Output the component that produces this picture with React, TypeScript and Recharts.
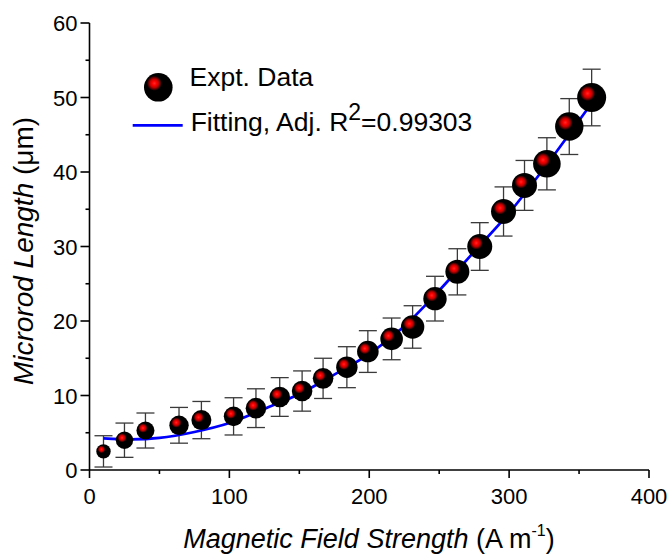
import { ComposedChart, ErrorBar, Line, Scatter, XAxis, YAxis } from 'recharts';

// measured microrod length vs applied field
const fieldStrength = [10, 25, 40, 64, 80, 103, 119, 136, 152, 167, 184, 199, 216, 231, 247, 263, 279, 296, 311, 327, 343, 359];
const rodLength = [2.5, 4.0, 5.3, 6.0, 6.7, 7.2, 8.3, 9.8, 10.6, 12.3, 13.8, 15.9, 17.6, 19.2, 23.0, 26.6, 30.0, 34.7, 38.2, 41.1, 46.1, 50.0];
const lengthError = [2.1, 2.3, 2.35, 2.4, 2.5, 2.5, 2.6, 2.6, 2.7, 2.7, 2.75, 2.8, 2.8, 2.85, 3.0, 3.1, 3.2, 3.3, 3.35, 3.5, 3.75, 3.8];

// fitted curve
const fitField = [10, 30, 50, 75, 100, 125, 150, 175, 200, 225, 250, 275, 300, 325, 345, 360];
const fitLength = [4.25, 4.1, 4.3, 5.1, 6.3, 8.2, 10.2, 12.8, 15.6, 19.3, 24.1, 29.3, 34.5, 40.5, 45.6, 49.5];

const xTicks = [0, 50, 100, 150, 200, 250, 300, 350, 400];
const yTicks = [0, 5, 10, 15, 20, 25, 30, 35, 40, 45, 50, 55, 60];

// marker radius in px, the symbols get bigger along the series
const MARKER_R = [7.2, 8.7, 9, 9.7, 10, 9.8, 10.3, 10.3, 10.3, 10.3, 10.7, 10.8, 11.3, 11.7, 11.7, 12, 12.5, 12.5, 12.5, 13.8, 14.2, 14.5];

const FONT = '"Liberation Sans", Arial, Helvetica, sans-serif';
const W = 668;
const H = 554;

const exptData = fieldStrength.map((x, i) => ({ x, y: rodLength[i], err: lengthError[i], idx: i }));
const fitData = fitField.map((x, i) => ({ x, fit: fitLength[i] }));

function XTick({ x, y, payload }: any) {
  const major = payload.value % 100 === 0;
  return (
    <g>
      <line x1={x} x2={x} y1={y} y2={y + (major ? 8 : 4)} stroke="#000" strokeWidth={1.6} />
      {major && (
        <text x={x} y={y + 34} textAnchor="middle" fontFamily={FONT} fontSize={22} fill="#000">
          {payload.value}
        </text>
      )}
    </g>
  );
}

function YTick({ x, y, payload }: any) {
  const major = payload.value % 10 === 0;
  return (
    <g>
      <line x1={x - (major ? 9 : 4)} x2={x} y1={y} y2={y} stroke="#000" strokeWidth={1.6} />
      {major && (
        <text x={x - 12} y={y + 8} textAnchor="end" fontFamily={FONT} fontSize={22} fill="#000">
          {payload.value}
        </text>
      )}
    </g>
  );
}

function Ball(props: any) {
  const { cx, cy, payload } = props;
  if (cx == null || cy == null) return null;
  return <circle cx={cx} cy={cy} r={MARKER_R[payload.idx]} fill="url(#ballGrad)" />;
}

export default function App() {
  return (
    <div style={{ position: 'absolute', left: 0, top: 0, width: W, height: H, background: '#fff' }}>
      <ComposedChart width={W} height={H} margin={{ top: 23, right: 19, bottom: 0, left: 0 }}>
        <XAxis
          type="number"
          dataKey="x"
          domain={[0, 400]}
          ticks={xTicks}
          interval={0}
          height={84}
          tickSize={0}
          tickMargin={0}
          tickLine={false}
          tick={<XTick />}
          axisLine={{ stroke: '#000', strokeWidth: 1.6 }}
          allowDataOverflow
        />
        <YAxis
          type="number"
          domain={[0, 60]}
          ticks={yTicks}
          interval={0}
          width={89.5}
          tickSize={0}
          tickMargin={0}
          tickLine={false}
          tick={<YTick />}
          axisLine={{ stroke: '#000', strokeWidth: 1.6 }}
          allowDataOverflow
        />
        <Scatter data={exptData} dataKey="y" shape={Ball} isAnimationActive={false}>
          <ErrorBar dataKey="err" direction="y" width={9} stroke="#3a3a3a" strokeWidth={1.3} isAnimationActive={false} />
        </Scatter>
        <Line
          data={fitData}
          dataKey="fit"
          type="monotone"
          stroke="#0000ff"
          strokeWidth={2.7}
          dot={false}
          activeDot={false}
          isAnimationActive={false}
        />
      </ComposedChart>

      <svg width={W} height={H} style={{ position: 'absolute', left: 0, top: 0, pointerEvents: 'none' }}>
        <defs>
          <radialGradient id="ballGrad" cx="0.36" cy="0.36" fx="0.36" fy="0.36" r="0.5">
            <stop offset="0%" stopColor="#ff2a2a" />
            <stop offset="15%" stopColor="#ff0000" />
            <stop offset="30%" stopColor="#c00000" />
            <stop offset="42%" stopColor="#5a0000" />
            <stop offset="52%" stopColor="#000000" />
            <stop offset="100%" stopColor="#000000" />
          </radialGradient>
        </defs>

        {/* legend */}
        <circle cx={158.3} cy={87.3} r={14.3} fill="url(#ballGrad)" />
        <text x={189.5} y={86} fontFamily={FONT} fontSize={26.5} fill="#000">
          Expt. Data
        </text>
        <line x1={132.7} x2={182.7} y1={125.3} y2={125.3} stroke="#0000ff" strokeWidth={2.7} />
        <text x={190.7} y={131} fontFamily={FONT} fontSize={26.5} fill="#000">
          Fitting, Adj. R
          <tspan fontSize={23} dy={-11}>2</tspan>
          <tspan dy={11}>=0.99303</tspan>
        </text>

        {/* axis titles */}
        <text x={369} y={548} textAnchor="middle" fontFamily={FONT} fontSize={27} fill="#000">
          <tspan fontStyle="italic">Magnetic Field Strength</tspan>
          <tspan> (A m</tspan>
          <tspan fontSize={16} dy={-12}>-1</tspan>
          <tspan dy={12}>)</tspan>
        </text>
        <text
          x={0}
          y={0}
          transform="translate(33,251) rotate(-90)"
          textAnchor="middle"
          fontFamily={FONT}
          fontSize={28}
          fill="#000"
        >
          <tspan fontStyle="italic">Microrod Length</tspan>
          <tspan> (μm)</tspan>
        </text>
      </svg>
    </div>
  );
}
